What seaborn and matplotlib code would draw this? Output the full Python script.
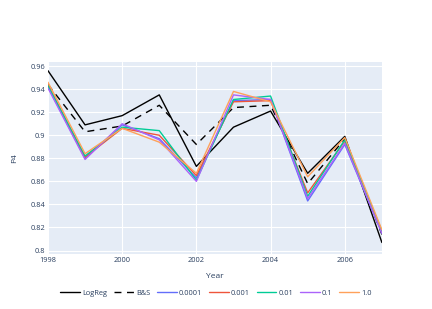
import pandas as pd
import seaborn as sns
import matplotlib.pyplot as plt
from matplotlib.lines import Line2D

# values
years = [1998, 1999, 2000, 2001, 2002, 2003, 2004, 2005, 2006, 2007]
logreg = [0.956, 0.909, 0.917, 0.935, 0.873, 0.907, 0.921, 0.867, 0.899, 0.807]
bands = [0.944, 0.903, 0.908, 0.926, 0.892, 0.924, 0.926, 0.858, 0.897, 0.814]
c_0001 = [0.942, 0.880, 0.909, 0.897, 0.863, 0.930, 0.931, 0.843, 0.892, 0.815]
c_001 = [0.944, 0.881, 0.906, 0.900, 0.865, 0.929, 0.930, 0.850, 0.895, 0.816]
c_01 = [0.943, 0.882, 0.907, 0.904, 0.861, 0.931, 0.934, 0.847, 0.896, 0.817]
c_1 = [0.941, 0.879, 0.910, 0.896, 0.860, 0.935, 0.931, 0.845, 0.893, 0.815]
c_10 = [0.946, 0.884, 0.906, 0.894, 0.867, 0.938, 0.929, 0.864, 0.898, 0.818]

names = ["LogReg", "B&S", "0.0001", "0.001", "0.01", "0.1", "1.0"]
series = [logreg, bands, c_0001, c_001, c_01, c_1, c_10]
colors = ["black", "black", "#636EFA", "#EF553B", "#00CC96", "#AB63FA", "#FFA15A"]

rows = []
for name, vals in zip(names, series):
    for y, v in zip(years, vals):
        rows.append({"Year": y, "P4": v, "model": name})
df = pd.DataFrame(rows)

sns.set_theme(style="darkgrid")
plt.rcParams["font.family"] = ["Open Sans", "DejaVu Sans"]

fig = plt.figure(figsize=(4.32, 3.09), dpi=100)
ax = fig.add_axes([0.111, 0.178, 0.773, 0.622])
ax.set_facecolor("#E5ECF6")

dash_map = {n: "" for n in names}
dash_map["B&S"] = (5, 4)
sns.lineplot(data=df, x="Year", y="P4", hue="model", style="model",
             hue_order=names, style_order=names,
             palette=dict(zip(names, colors)), dashes=dash_map,
             linewidth=1.0, legend=False, ax=ax)

ax.set_xlim(1998, 2007)
ax.set_ylim(0.797, 0.9637)
ax.set_xticks([1998, 2000, 2002, 2004, 2006])
ax.set_yticks([0.8, 0.82, 0.84, 0.86, 0.88, 0.9, 0.92, 0.94, 0.96])
ax.set_yticklabels(["0.8", "0.82", "0.84", "0.86", "0.88", "0.9", "0.92", "0.94", "0.96"])
ax.grid(color="white", linewidth=0.8)
for s in ax.spines.values():
    s.set_visible(False)
ax.tick_params(length=0, labelsize=5.3, labelcolor="#2a3f5f", pad=2)
ax.set_xlabel("Year", fontsize=6, color="#2a3f5f", labelpad=7)
ax.set_ylabel("P4", fontsize=6, color="#2a3f5f", labelpad=9)

handles = [Line2D([], [], color=c, linewidth=1.0,
                  linestyle=(0, (5, 4)) if n == "B&S" else "-")
           for n, c in zip(names, colors)]
leg = fig.legend(handles, names, loc="center", bbox_to_anchor=(0.5, 0.052),
                 ncol=7, frameon=False, fontsize=5.3, handlelength=2.7,
                 handletextpad=0.3, columnspacing=0.9)
for t in leg.get_texts():
    t.set_color("#2a3f5f")

fig.savefig("out.png", dpi=100)
